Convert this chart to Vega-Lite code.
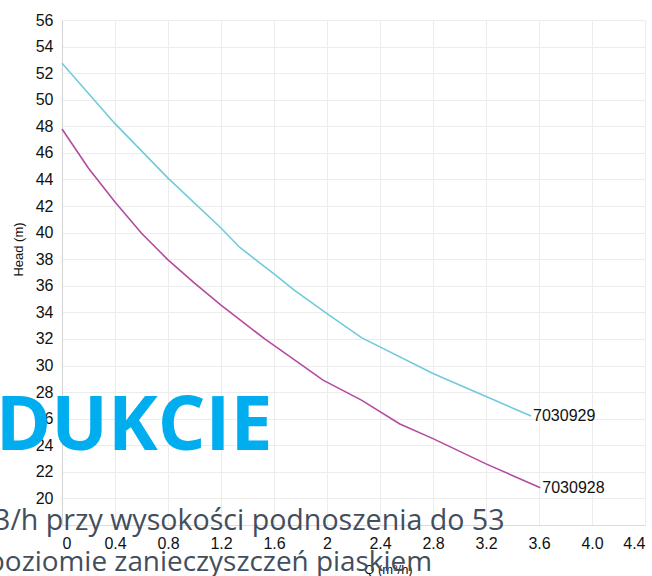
{
  "$schema": "https://vega.github.io/schema/vega-lite/v6.json",
  "width": 583,
  "height": 505,
  "autosize": {"type": "none"},
  "padding": {"left": 62, "top": 20, "right": 7, "bottom": 51},
  "background": "white",
  "config": {"view": {"stroke": null}, "font": "Liberation Sans"},
  "datasets": {
    "curves": [
      {"model": "7030929", "Q": 0, "head": 52.75},
      {"model": "7030929", "Q": 0.4, "head": 48.2},
      {"model": "7030929", "Q": 0.8, "head": 44.1},
      {"model": "7030929", "Q": 1.2, "head": 40.35},
      {"model": "7030929", "Q": 1.34, "head": 38.9},
      {"model": "7030929", "Q": 1.6, "head": 36.9},
      {"model": "7030929", "Q": 1.75, "head": 35.7},
      {"model": "7030929", "Q": 2.0, "head": 33.9},
      {"model": "7030929", "Q": 2.26, "head": 32.1},
      {"model": "7030929", "Q": 2.8, "head": 29.4},
      {"model": "7030929", "Q": 3.54, "head": 26.2},
      {"model": "7030928", "Q": 0, "head": 47.8},
      {"model": "7030928", "Q": 0.2, "head": 44.85},
      {"model": "7030928", "Q": 0.4, "head": 42.3},
      {"model": "7030928", "Q": 0.6, "head": 39.95},
      {"model": "7030928", "Q": 0.8, "head": 37.95},
      {"model": "7030928", "Q": 1.0, "head": 36.2},
      {"model": "7030928", "Q": 1.2, "head": 34.55},
      {"model": "7030928", "Q": 1.53, "head": 32.0},
      {"model": "7030928", "Q": 1.8, "head": 30.1},
      {"model": "7030928", "Q": 1.97, "head": 28.9},
      {"model": "7030928", "Q": 2.26, "head": 27.4},
      {"model": "7030928", "Q": 2.55, "head": 25.6},
      {"model": "7030928", "Q": 2.8, "head": 24.5},
      {"model": "7030928", "Q": 3.2, "head": 22.6},
      {"model": "7030928", "Q": 3.61, "head": 20.8}
    ],
    "notes": [
      {"kind": "big", "text": "DUKCIE", "Q": -0.5, "head": 23.62},
      {"kind": "line1", "text": "3/h przy wysokości podnoszenia do 53", "Q": -0.513, "head": 17.6},
      {"kind": "line2", "text": "poziomie zanieczyszczeń piaskiem", "Q": -0.56, "head": 14.51}
    ]
  },
  "encoding": {
    "x": {
      "field": "Q", "type": "quantitative",
      "scale": {"domain": [0, 4.4], "nice": false, "zero": false},
      "axis": {
        "values": [0, 0.4, 0.8, 1.2, 1.6, 2, 2.4, 2.8, 3.2, 3.6, 4.0, 4.4],
        "labelExpr": "datum.value == 0 ? '0' : (datum.value == 2 ? '2' : format(datum.value, '.1f'))",
        "grid": true, "gridColor": "#ececec", "ticks": false,
        "domainColor": "#dcdcdc", "labelPadding": 10, "labelFontSize": 16,
        "labelColor": "#111", "labelFont": "Liberation Sans",
        "title": "Q (m³/h)", "titleFontSize": 13, "titleFontWeight": "normal",
        "titleColor": "#111", "titleX": 326, "titleY": 38, "titleBaseline": "top"
      }
    },
    "y": {
      "field": "head", "type": "quantitative",
      "scale": {"domain": [18, 56], "nice": false, "zero": false},
      "axis": {
        "values": [18, 20, 22, 24, 26, 28, 30, 32, 34, 36, 38, 40, 42, 44, 46, 48, 50, 52, 54, 56],
        "labelExpr": "datum.value < 19 ? '' : datum.label",
        "grid": true, "gridColor": "#ececec", "ticks": false,
        "domainColor": "#d4d4d4", "labelPadding": 9, "labelFontSize": 16,
        "labelColor": "#111", "labelFont": "Liberation Sans",
        "title": "Head (m)", "titleFontSize": 13, "titleFontWeight": "normal",
        "titleColor": "#111", "titleX": -37, "titleY": 229, "titleAngle": 270,
        "titleAlign": "center", "titleBaseline": "bottom"
      }
    }
  },
  "layer": [
    {
      "data": {"name": "curves"},
      "mark": {"type": "line", "strokeWidth": 1.6},
      "encoding": {
        "color": {
          "field": "model", "type": "nominal",
          "scale": {"domain": ["7030929", "7030928"], "range": ["#6fcbdc", "#b44ba0"]},
          "legend": null
        }
      }
    },
    {
      "data": {"name": "curves"},
      "transform": [
        {"joinaggregate": [{"op": "max", "field": "Q", "as": "maxQ"}], "groupby": ["model"]},
        {"filter": "datum.Q == datum.maxQ"}
      ],
      "mark": {"type": "text", "align": "left", "baseline": "middle", "dx": 2, "fontSize": 16, "font": "Liberation Sans", "color": "#111"},
      "encoding": {"text": {"field": "model"}}
    },
    {
      "data": {"name": "notes"},
      "transform": [{"filter": "datum.kind == 'big'"}],
      "mark": {"type": "text", "align": "left", "baseline": "alphabetic", "fontSize": 75, "font": "Open Sans", "fontWeight": "bold", "color": "#00adef"},
      "encoding": {"text": {"field": "text"}}
    },
    {
      "data": {"name": "notes"},
      "transform": [{"filter": "datum.kind == 'line1'"}],
      "mark": {"type": "text", "align": "left", "baseline": "alphabetic", "fontSize": 28.6, "font": "Open Sans", "color": "#434e5d"},
      "encoding": {"text": {"field": "text"}}
    },
    {
      "data": {"name": "notes"},
      "transform": [{"filter": "datum.kind == 'line2'"}],
      "mark": {"type": "text", "align": "left", "baseline": "alphabetic", "fontSize": 27.9, "font": "Open Sans", "color": "#434e5d"},
      "encoding": {"text": {"field": "text"}}
    }
  ]
}
